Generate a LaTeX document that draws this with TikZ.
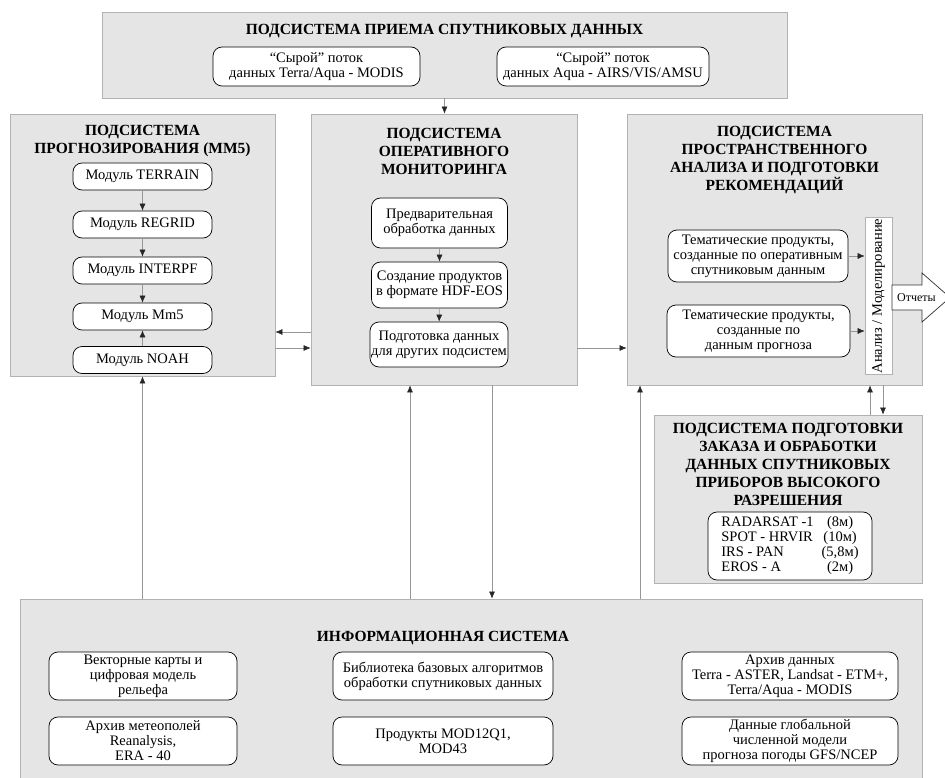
\documentclass[tikz,border=0pt]{standalone}
\usepackage{fontspec}
\setmainfont{Liberation Serif}
\usetikzlibrary{arrows.meta}
\definecolor{panelfill}{RGB}{229,229,229}
\definecolor{paneledge}{RGB}{178,178,178}
\definecolor{wire}{RGB}{150,150,150}
\tikzset{
	panel/.style={draw=paneledge, fill=panelfill, line width=0.8pt, inner sep=0pt},
	ptitle/.style={align=center, inner sep=0pt, font=\bfseries\fontsize{15.5}{18}\selectfont},
	unit/.style={draw=black, fill=white, line width=0.7pt, rounded corners=9pt, align=center, inner xsep=1pt, inner ysep=0.5pt, font=\fontsize{14.5}{15}\selectfont},
	flow/.style={draw=wire, line width=0.6pt, -{Latex[length=7pt,width=6pt,color=black!85]}}
}

\begin{document}
\begin{tikzpicture}[x=1pt, y=-1pt]
		%%%%% START %%%%%
		\useasboundingbox (0,0) rectangle (945,778);
		
		% panels
		\node[panel, minimum width=685pt, minimum height=86pt] (recv) at (444.5,55) {};
		\node[panel, minimum width=265pt, minimum height=262pt] (prog) at (142.5,245) {};
		\node[panel, minimum width=266pt, minimum height=271pt] (mon) at (444,249.5) {};
		\node[panel, minimum width=295pt, minimum height=271pt] (ana) at (774.5,249.5) {};
		\node[panel, minimum width=268pt, minimum height=168pt] (hr) at (788,499) {};
		\node[panel, minimum width=902pt, minimum height=179pt] (info) at (471,688.5) {};
		
		% titles
		\node[ptitle] (recv-t) at (444.5,31) {ПОДСИСТЕМА ПРИЕМА СПУТНИКОВЫХ ДАННЫХ};
		\node[ptitle] (prog-t) at (142.5,141) {ПОДСИСТЕМА\\ПРОГНОЗИРОВАНИЯ (MM5)};
		\node[ptitle] (mon-t) at (444,151.5) {ПОДСИСТЕМА\\ОПЕРАТИВНОГО\\МОНИТОРИНГА};
		\node[ptitle] (ana-t) at (774.5,160.5) {ПОДСИСТЕМА\\ПРОСТРАНСТВЕННОГО\\АНАЛИЗА И ПОДГОТОВКИ\\РЕКОМЕНДАЦИЙ};
		\node[ptitle] (hr-t) at (788,464.5) {ПОДСИСТЕМА ПОДГОТОВКИ\\ЗАКАЗА И ОБРАБОТКИ\\ДАННЫХ СПУТНИКОВЫХ\\ПРИБОРОВ ВЫСОКОГО\\РАЗРЕШЕНИЯ};
		\node[ptitle] (info-t) at (443,638) {ИНФОРМАЦИОННАЯ СИСТЕМА};
		
		% satellite streams
		\node[unit, minimum width=207pt, minimum height=39pt] (raw1) at (316.5,66.5) {“Сырой” поток\\данных Terra/Aqua - MODIS};
		\node[unit, minimum width=212pt, minimum height=39pt] (raw2) at (603,66.5) {“Сырой” поток\\данных Aqua - AIRS/VIS/AMSU};
		
		% forecast modules
		\node[unit, minimum width=139pt, minimum height=27pt] (terrain) at (142.5,176.5) {Модуль TERRAIN};
		\node[unit, minimum width=139pt, minimum height=27pt] (regrid) at (142.5,224.5) {Модуль REGRID};
		\node[unit, minimum width=139pt, minimum height=27pt] (interpf) at (142.5,270.5) {Модуль INTERPF};
		\node[unit, minimum width=139pt, minimum height=27pt] (mm5) at (142.5,316.5) {Модуль Mm5};
		\node[unit, minimum width=139pt, minimum height=27pt] (noah) at (142.5,360) {Модуль NOAH};
		
		% monitoring
		\node[unit, minimum width=136pt, minimum height=50pt] (pre) at (439.5,223) {Предварительная\\обработка данных};
		\node[unit, minimum width=136pt, minimum height=46pt] (hdf) at (439.5,285) {Создание продуктов\\в формате HDF-EOS};
		\node[unit, minimum width=138pt, minimum height=45pt] (prep) at (439,344.5) {Подготовка данных\\для других подсистем};
		
		% analysis
		\node[unit, minimum width=180pt, minimum height=52pt] (th1) at (758,256) {Тематические продукты,\\созданные по оперативным\\спутниковым данным};
		\node[unit, minimum width=183pt, minimum height=52pt] (th2) at (758.5,331) {Тематические продукты,\\созданные по\\данным прогноза};
		\node[draw=paneledge, fill=white, line width=0.7pt, rotate=90, inner sep=1pt, minimum width=148pt, minimum height=27pt, font=\fontsize{14.5}{15}\selectfont] (model) at (878.5,296) {Анализ / Моделирование};
		\draw[fill=white, draw=black!80, line width=0.7pt] (892,285) -- (922,285) -- (922,273) -- (950,297.5) -- (922,322) -- (922,310) -- (892,310) -- cycle;
		\node[anchor=west, inner sep=0pt, font=\fontsize{12}{14}\selectfont] (rep) at (897,297.5) {Отчеты};
		
		% high resolution
		\node[unit, minimum width=164pt, minimum height=68pt] (sat) at (790,546) {\begin{tabular}{@{}l@{\hspace{8pt}}c@{}}
			RADARSAT -1 & (8м)\\
			SPOT - HRVIR & (10м)\\
			IRS - PAN & (5,8м)\\
			EROS - A & (2м)
		\end{tabular}};
		
		% information system
		\node[unit, minimum width=188pt, minimum height=48pt] (vec) at (143,676) {Векторные карты и\\цифровая модель\\рельефа};
		\node[unit, minimum width=188pt, minimum height=48pt] (met) at (143,741) {Архив метеополей\\Reanalysis,\\ERA - 40};
		\node[unit, minimum width=220pt, minimum height=48pt] (lib) at (443,676) {Библиотека базовых  алгоритмов\\обработки спутниковых данных};
		\node[unit, minimum width=220pt, minimum height=48pt] (mod) at (443,741) {Продукты MOD12Q1,\\MOD43};
		\node[unit, minimum width=216pt, minimum height=48pt] (arc) at (790,676) {Архив данных\\Terra - ASTER, Landsat - ETM+,\\Terra/Aqua - MODIS};
		\node[unit, minimum width=216pt, minimum height=48pt] (gfs) at (790,741) {Данные глобальной\\численной модели\\прогноза погоды GFS/NCEP};
		
		% connectors
		\draw[flow] (recv.south) -- (recv.south |- mon.north);
		\draw[flow] (terrain) -- (regrid);
		\draw[flow] (regrid) -- (interpf);
		\draw[flow] (interpf) -- (mm5);
		\draw[flow] (noah) -- (mm5);
		\draw[flow] (pre) -- (hdf);
		\draw[flow] (hdf) -- (prep);
		\draw[flow] (mon.west |- 0,332) -- (prog.east |- 0,332);
		\draw[flow] (prog.east |- 0,348) -- (mon.west |- 0,348);
		\draw[flow] (mon.east |- 0,348) -- (ana.west |- 0,348);
		\draw[flow] (th1.east) -- (th1.east -| model.north);
		\draw[flow] (th2.east) -- (th2.east -| model.north);
		\draw[flow] (info.north -| prog.south) -- (prog.south);
		\draw[flow] (info.north -| 410,0) -- (mon.south -| 410,0);
		\draw[flow] (mon.south -| 492,0) -- (info.north -| 492,0);
		\draw[flow] (info.north -| 640,0) -- (ana.south -| 640,0);
		\draw[flow] (hr.north -| 870,0) -- (ana.south -| 870,0);
		\draw[flow] (ana.south -| 883,0) -- (hr.north -| 883,0);
		%%%%% END %%%%%
\end{tikzpicture}
\end{document}
